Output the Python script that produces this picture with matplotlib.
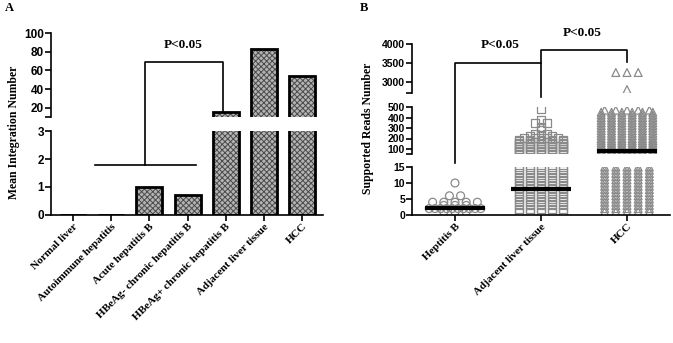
import numpy as np
import matplotlib
matplotlib.use('Agg')
import matplotlib.pyplot as plt
from matplotlib.lines import Line2D

plt.rcParams['hatch.linewidth'] = 0.7

# ---- panel A data ----
groups_a = ['Normal liver', 'Autoimmune hepatitis', 'Acute hepatitis B',
            'HBeAg- chronic hepatitis B', 'HBeAg+ chronic hepatitis B',
            'Adjacent liver tissue', 'HCC']
mean_integration = [0, 0, 1.0, 0.7, 15.7, 83, 53.5]

# ---- panel B data (value, count) ----
groups_b = ['Heptitis B', 'Adjacent liver tissue', 'HCC']
hb_vals = [1, 2, 3, 4, 6, 10]
hb_counts = [3, 10, 3, 5, 2, 1]

adj_vals = [1, 2, 3, 4, 5, 6, 7, 8, 9, 10, 11, 12, 13, 14, 15,
            55, 70, 85, 100, 115, 130, 145, 160, 175, 190, 205, 220,
            240, 280, 310, 350, 380, 480]
adj_counts = [5, 5, 5, 5, 5, 5, 5, 5, 5, 5, 5, 5, 5, 5, 5,
              5, 5, 5, 5, 5, 5, 5, 5, 5, 5, 4, 3,
              2, 1, 1, 2, 1, 1]

hcc_vals = [1, 2, 3, 4, 5, 6, 7, 8, 9, 10, 11, 12, 13, 14, 15,
            55, 70, 85, 100, 120, 140, 160, 180, 200, 225, 250, 275,
            300, 325, 350, 375, 400, 425, 450, 470, 2800, 3250]
hcc_counts = [5, 5, 5, 5, 5, 5, 5, 5, 5, 5, 5, 5, 5, 5, 5,
              6, 6, 6, 6, 6, 6, 6, 6, 6, 6, 6, 6,
              6, 6, 6, 6, 6, 6, 6, 5, 1, 3]

medians_b = [2.2, 8, 85]


def spread(vals, counts, center):
    xs, ys = [], []
    for v, n in zip(vals, counts):
        half = min(0.3, 0.065 * (n - 1))
        for off in np.linspace(-half, half, n):
            xs.append(center + off)
            ys.append(v)
    return xs, ys


W, H = 673, 343
fig = plt.figure(figsize=(6.73, 3.43), dpi=100)


def fx(px):
    return px / W


def fy(px):
    return 1 - px / H


def style(ax, bottom=True):
    for s in ['top', 'right']:
        ax.spines[s].set_visible(False)
    for s in ['left', 'bottom']:
        ax.spines[s].set_linewidth(1.2)
    ax.tick_params(direction='out', length=4, width=1.2, pad=1)
    if not bottom:
        ax.spines['bottom'].set_visible(False)
        ax.set_xticks([])
    ax.patch.set_alpha(0)


tick_font_a = {'family': 'Liberation Sans', 'weight': 'bold', 'size': 8.5}
tick_font_b = {'family': 'Liberation Sans', 'weight': 'bold', 'size': 7.5}
serif_b = {'family': 'Liberation Serif', 'weight': 'bold'}

# ================= panel A =================
xa = np.arange(len(groups_a))
a_left, a_right = fx(51), fx(323)
axA_lo = fig.add_axes([a_left, fy(215), a_right - a_left, fy(131) - fy(215)])
axA_hi = fig.add_axes([a_left, fy(117), a_right - a_left, fy(33) - fy(117)])

for ax in [axA_lo, axA_hi]:
    ax.bar(xa, mean_integration, 0.68, color='#b4b4b4', edgecolor='#4a4a4a',
           hatch='xxxxxx', linewidth=0)
    ax.bar(xa, mean_integration, 0.68, fill=False, edgecolor='black',
           linewidth=2)
    ax.set_xlim(-0.58, 6.55)

axA_lo.set_ylim(0, 3)
axA_lo.set_yticks([0, 1, 2, 3])
axA_hi.set_ylim(10, 100)
axA_hi.set_yticks([10, 20, 40, 60, 80, 100])
axA_hi.set_yticklabels(['', '20', '40', '60', '80', '100'])
style(axA_lo)
style(axA_hi, bottom=False)
for ax in [axA_lo, axA_hi]:
    for lab in ax.get_yticklabels():
        lab.set_fontproperties(tick_font_a)
axA_lo.set_xticks(xa)
axA_lo.set_xticklabels(groups_a, rotation=45, ha='right',
                       rotation_mode='anchor', fontsize=8, **serif_b)

# ================= panel B =================
xb = np.arange(len(groups_b))
b_left, b_right = fx(412), fx(670)
axB_lo = fig.add_axes([b_left, fy(215), b_right - b_left, fy(167) - fy(215)])
axB_mid = fig.add_axes([b_left, fy(154.25), b_right - b_left, fy(107) - fy(154.25)])
axB_hi = fig.add_axes([b_left, fy(93.4), b_right - b_left, fy(44) - fy(93.4)])

pts = [spread(hb_vals, hb_counts, 0),
       spread(adj_vals, adj_counts, 1),
       spread(hcc_vals, hcc_counts, 2)]
markers = ['o', 's', '^']

for ax in [axB_lo, axB_mid, axB_hi]:
    for (xs, ys), m in zip(pts, markers):
        ax.scatter(xs, ys, s=32, marker=m, facecolors='none',
                   edgecolors='#8a8a8a', linewidths=0.9, zorder=2)
    ax.hlines(medians_b, xb - 0.35, xb + 0.35, colors='black', linewidth=3,
              zorder=3)
    ax.set_xlim(-0.5, 2.5)

axB_lo.set_ylim(0, 15)
axB_lo.set_yticks([0, 5, 10, 15])
axB_mid.set_ylim(50, 500)
axB_mid.set_yticks([50, 100, 200, 300, 400, 500])
axB_mid.set_yticklabels(['', '100', '200', '300', '400', '500'])
axB_hi.set_ylim(2700, 4000)
axB_hi.set_yticks([2700, 3000, 3500, 4000])
axB_hi.set_yticklabels(['', '3000', '3500', '4000'])
style(axB_lo)
style(axB_mid, bottom=False)
style(axB_hi, bottom=False)
for ax in [axB_lo, axB_mid, axB_hi]:
    for lab in ax.get_yticklabels():
        lab.set_fontproperties(tick_font_b)
axB_lo.set_xticks(xb)
axB_lo.set_xticklabels(groups_b, rotation=45, ha='right',
                       rotation_mode='anchor', fontsize=8, **serif_b)


# ================= brackets and text =================
def to_fig(ax, x, y):
    return fig.transFigure.inverted().transform(ax.transData.transform((x, y)))


def bracket(pts_list):
    xy = np.array([to_fig(ax, x, y) for ax, x, y in pts_list])
    fig.add_artist(Line2D(xy[:, 0], xy[:, 1], transform=fig.transFigure,
                          color='black', linewidth=1.2))


bracket([(axA_lo, 0.58, 1.8), (axA_lo, 3.22, 1.8)])
bracket([(axA_lo, 1.88, 1.8), (axA_hi, 1.88, 68.5), (axA_hi, 3.93, 68.5),
         (axA_hi, 3.93, 15.7)])
axA_hi.text(2.88, 87, 'P<0.05', ha='center', va='center', fontsize=9.5,
            **serif_b)

bracket([(axB_lo, 0, 16.2), (axB_hi, 0, 3500), (axB_hi, 1, 3500),
         (axB_hi, 1, 2600)])
bracket([(axB_hi, 1, 3500), (axB_hi, 1, 3840), (axB_hi, 2, 3840),
         (axB_hi, 2, 3530)])
axB_hi.text(0.52, 3970, 'P<0.05', ha='center', va='center', fontsize=9.5,
            **serif_b)
axB_hi.text(1.48, 4290, 'P<0.05', ha='center', va='center', fontsize=9.5,
            **serif_b)

fig.text(fx(14), fy(132), 'Mean Integration Number', rotation=90,
         ha='center', va='center', fontsize=8.5, **serif_b)
fig.text(fx(368), fy(128), 'Supported Reads Number', rotation=90,
         ha='center', va='center', fontsize=8.5, **serif_b)
fig.text(fx(9), fy(8), 'A', ha='center', va='center', fontsize=9, **serif_b)
fig.text(fx(364), fy(8), 'B', ha='center', va='center', fontsize=9, **serif_b)

fig.savefig('out.png', dpi=100)
